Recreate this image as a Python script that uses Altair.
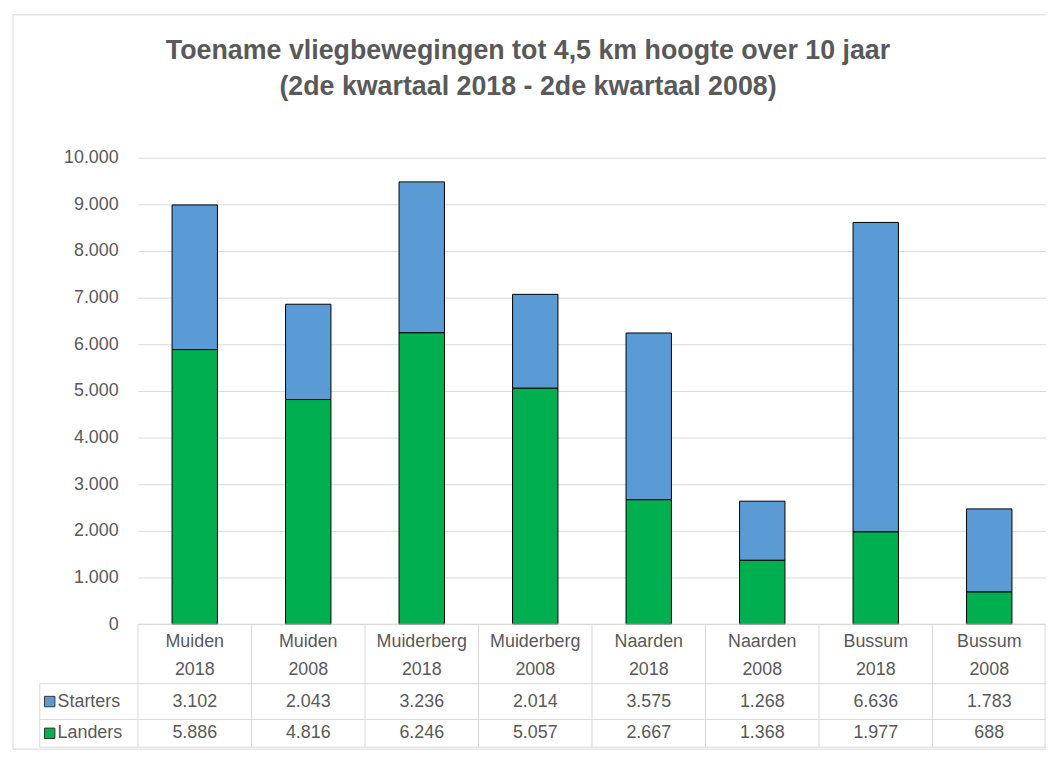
import altair as alt
import pandas as pd

categories = ["Muiden 2018", "Muiden 2008", "Muiderberg 2018", "Muiderberg 2008",
              "Naarden 2018", "Naarden 2008", "Bussum 2018", "Bussum 2008"]
starters = [3102, 2043, 3236, 2014, 3575, 1268, 6636, 1783]
landers = [5886, 4816, 6246, 5057, 2667, 1368, 1977, 688]
series = ["Starters", "Landers"]
colors = ["#5B9BD5", "#00B050"]
y_ticks = [0, 1000, 2000, 3000, 4000, 5000, 6000, 7000, 8000, 9000, 10000]
title_lines = ["Toename vliegbewegingen tot 4,5 km hoogte over 10 jaar",
               "(2de kwartaal 2018 - 2de kwartaal 2008)"]

FONT = "Liberation Sans"
GREY = "#595959"
LINE = "#D9D9D9"
W = 915
H = 470
PAD_IN = 0.6
PAD_OUT = 0.3
STEP = W / len(categories)

rows = []
for c, s, l in zip(categories, starters, landers):
    rows.append({"cat": c, "series": "Starters", "value": s})
    rows.append({"cat": c, "series": "Landers", "value": l})
df = pd.DataFrame(rows)
df_cat = pd.DataFrame({"cat": categories})

xs = alt.X("cat:N", sort=categories, axis=None,
           scale=alt.Scale(paddingInner=PAD_IN, paddingOuter=PAD_OUT))

bars = alt.Chart(df).mark_bar(stroke="#000000", strokeWidth=1).encode(
    x=xs,
    y=alt.Y("value:Q", stack="zero",
            scale=alt.Scale(domain=[0, 10000], nice=False),
            axis=alt.Axis(values=y_ticks, title=None, domain=False, ticks=False,
                          labelExpr="replace(format(datum.value, ','), ',', '.')",
                          labelFont=FONT, labelFontSize=18, labelColor=GREY,
                          labelPadding=20, gridColor=LINE, gridWidth=1)),
    color=alt.Color("series:N", scale=alt.Scale(domain=series, range=colors), legend=None),
    order=alt.Order("series:N", sort="ascending"),
)

# table: category labels (two lines)
cat_text = alt.Chart(df_cat).mark_text(
    font=FONT, fontSize=18, color=GREY, lineBreak=" ", lineHeight=28, baseline="middle"
).encode(
    x=alt.X("cat:N", sort=categories),
    y=alt.value(H + 18),
    text="cat:N",
)

# table: values
val_text = alt.Chart(df).transform_calculate(
    lbl="replace(format(datum.value, ','), ',', '.')",
    ypos=f"datum.series == 'Starters' ? {H + 78} : {H + 110}",
).mark_text(font=FONT, fontSize=18, color=GREY, baseline="middle").encode(
    x=alt.X("cat:N", sort=categories),
    y=alt.Y("ypos:Q", scale=None),
    text="lbl:N",
)

# vertical table lines at category boundaries
vlines = alt.Chart(df_cat).mark_rule(color=LINE, strokeWidth=1,
                                     xOffset=-PAD_IN / 2 * STEP).encode(
    x=alt.X("cat:N", sort=categories, bandPosition=0),
    y=alt.value(H),
    y2=alt.value(H + 124),
)
vline_right = alt.Chart(df_cat.head(1)).mark_rule(color=LINE, strokeWidth=1).encode(
    x=alt.value(W - 1), y=alt.value(H), y2=alt.value(H + 124))
vline_left = alt.Chart(df_cat.head(1)).mark_rule(color=LINE, strokeWidth=1).encode(
    x=alt.value(-99), y=alt.value(H + 60), y2=alt.value(H + 124))

# horizontal table lines
hl_df = pd.DataFrame({"y": [H, H + 60, H + 96, H + 124], "x0": [0, -99, -99, -99]})
hlines = alt.Chart(hl_df).mark_rule(color=LINE, strokeWidth=1).encode(
    x=alt.X("x0:Q", scale=None), x2=alt.value(W),
    y=alt.Y("y:Q", scale=None),
)

# chart frame (left, top, bottom)
frame_left = alt.Chart(df_cat.head(1)).mark_rule(color=LINE, strokeWidth=1).encode(
    x=alt.value(-126), y=alt.value(-144), y2=alt.value(H + 126))
frame_top = alt.Chart(df_cat.head(1)).mark_rule(color=LINE, strokeWidth=1).encode(
    x=alt.value(-126), x2=alt.value(W), y=alt.value(-144))
frame_bottom = alt.Chart(df_cat.head(1)).mark_rule(color=LINE, strokeWidth=1).encode(
    x=alt.value(-126), x2=alt.value(W), y=alt.value(H + 126))

# legend keys in the table
leg_df = pd.DataFrame({"series": series, "ypos": [H + 78, H + 110]})
leg_sq = alt.Chart(leg_df).mark_square(size=110, stroke="#333333", strokeWidth=1, opacity=1).encode(
    x=alt.value(-89),
    y=alt.Y("ypos:Q", scale=None),
    color=alt.Color("series:N", scale=alt.Scale(domain=series, range=colors), legend=None),
)
leg_txt = alt.Chart(leg_df).mark_text(font=FONT, fontSize=18, color=GREY, align="left",
                                      baseline="middle").encode(
    x=alt.value(-81),
    y=alt.Y("ypos:Q", scale=None),
    text="series:N",
)

# title
t_df = pd.DataFrame({"t": title_lines, "ypos": [-108, -71]})
title = alt.Chart(t_df).mark_text(font=FONT, fontSize=27, fontWeight="bold", color=GREY,
                                  baseline="middle", align="center").encode(
    x=alt.value(532 - 139),
    y=alt.Y("ypos:Q", scale=None),
    text="t:N",
)

chart = alt.layer(
    bars, hlines, vlines, vline_right, vline_left, frame_left, frame_top, frame_bottom,
    cat_text, val_text, leg_sq, leg_txt, title
).properties(
    width=W, height=H,
    autosize=alt.AutoSizeParams(type="none"),
    padding={"left": 131, "top": 148, "right": 0, "bottom": 132},
).configure_view(stroke=None)

chart.save("out.html", embed_options={"renderer": "svg", "actions": False})
